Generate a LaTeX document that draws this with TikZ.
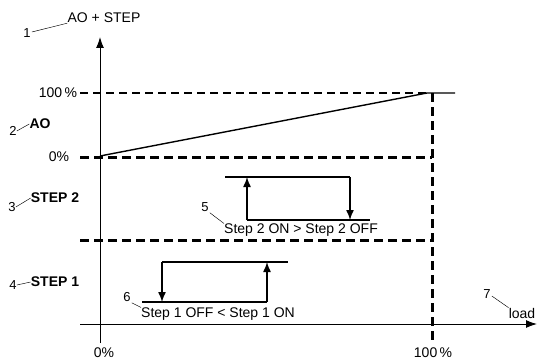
\documentclass[tikz,border=0pt]{standalone}
\usepackage{fontspec}
\setmainfont{Liberation Sans}
\usetikzlibrary{arrows.meta, calc}

\begin{document}
\begin{tikzpicture}[x=1pt,y=-1pt,
  txt/.style={inner sep=0pt, font=\fontsize{14}{16}\selectfont},
  num/.style={inner sep=0pt, font=\fontsize{13}{15}\selectfont},
  band/.style={inner sep=0pt, font=\bfseries\fontsize{14}{16}\selectfont},
  lead/.style={line width=0.45pt},
  thickdash/.style={line width=3pt, dash pattern=on 9pt off 5pt},
  thindash/.style={line width=1.3pt, dash pattern=on 8pt off 5pt},
  hyst/.style={line width=1.4pt},
  hystarrow/.style={hyst, -{Latex[length=10pt,width=8pt]}},
  axis/.style={line width=1pt, -{Latex[length=11pt,width=8pt]}}
  ]
\useasboundingbox (0,0) rectangle (537,361);

% axes
\coordinate (vbot) at (100,343);
\coordinate (vtop) at (100,37);
\coordinate (hleft) at (80,324);
\coordinate (hright) at (537,324);
\draw[axis] (vbot) -- (vtop);
\draw[axis] (hleft) -- (hright);

% axis texts
\node[txt] (ylabel) at (104,18) {AO + STEP};
\node[num] (n1) at (27,33) {1};
\draw[lead] ($(n1.east)+(1,-1)$) -- (ylabel.south west);
\node[txt] (xlabel) at (522,313) {load};
\node[num] (n7) at (487,294) {7};
\draw[lead] ($(n7.east)+(1,2)$) -- (xlabel.north west);
\node[txt] (x0) at (104,353) {0\%};
\node[txt] (x100) at (433,353) {100\,\%};

% AO band
\node[txt] (p100) at (58,93) {100\,\%};
\node[txt] (p0) at (59,157) {0\%};
\coordinate (aostart) at (100,156);
\coordinate (aoend) at (427,93);
\coordinate (aofree) at (455,93);
\coordinate (fullL) at (80,93);
\draw[thindash] (fullL) -- (aoend);
\draw[hyst] (aostart) -- (aoend) -- (aofree);
\node[band] (ao) at (40,124) {AO};
\node[num] (n2) at (13,131) {2};
\draw[lead] (n2.east) -- (ao.west);

% band limits
\coordinate (zeroL) at (80,157);
\coordinate (zeroR) at (432,157);
\coordinate (midL) at (80,240);
\coordinate (midR) at (432,240);
\coordinate (loadtop) at (432,93);
\coordinate (loadbot) at (432,343);
\draw[thickdash] (zeroL) -- (zeroR);
\draw[thickdash] (midL) -- (midR);
\draw[thickdash] (loadtop) -- (loadbot);

% step 2
\node[band] (st2) at (55,198) {STEP 2};
\node[num] (n3) at (12,207) {3};
\draw[lead] (n3.east) -- (st2.west);
\coordinate (s2a) at (225,177);
\coordinate (s2b) at (350,177);
\coordinate (s2c) at (350,220);
\coordinate (s2d) at (247,220);
\coordinate (s2e) at (370,220);
\coordinate (s2f) at (247,177);
\draw[hyst] (s2a) -- (s2b);
\draw[hyst] (s2d) -- (s2e);
\draw[hystarrow] (s2b) -- (s2c);
\draw[hystarrow] (s2d) -- (s2f);
\node[txt] (t2) at (301,230) {Step 2 ON > Step 2 OFF};
\node[num] (n5) at (205,207) {5};
\draw[lead] ($(n5.south east)+(1,1)$) -- (t2.north west);

% step 1
\node[band] (st1) at (55,282) {STEP 1};
\node[num] (n4) at (13,285) {4};
\draw[lead] (n4.east) -- (st1.west);
\coordinate (s1a) at (162,262);
\coordinate (s1b) at (288,262);
\coordinate (s1c) at (162,302);
\coordinate (s1d) at (142,302);
\coordinate (s1e) at (267,302);
\coordinate (s1f) at (267,262);
\draw[hyst] (s1a) -- (s1b);
\draw[hyst] (s1d) -- (s1e);
\draw[hystarrow] (s1a) -- (s1c);
\draw[hystarrow] (s1e) -- (s1f);
\node[txt] (t1) at (218,314) {Step 1 OFF < Step 1 ON};
\node[num] (n6) at (127,297) {6};
\draw[lead] ($(n6.south east)+(1,1)$) -- (t1.north west);

\end{tikzpicture}
\end{document}
